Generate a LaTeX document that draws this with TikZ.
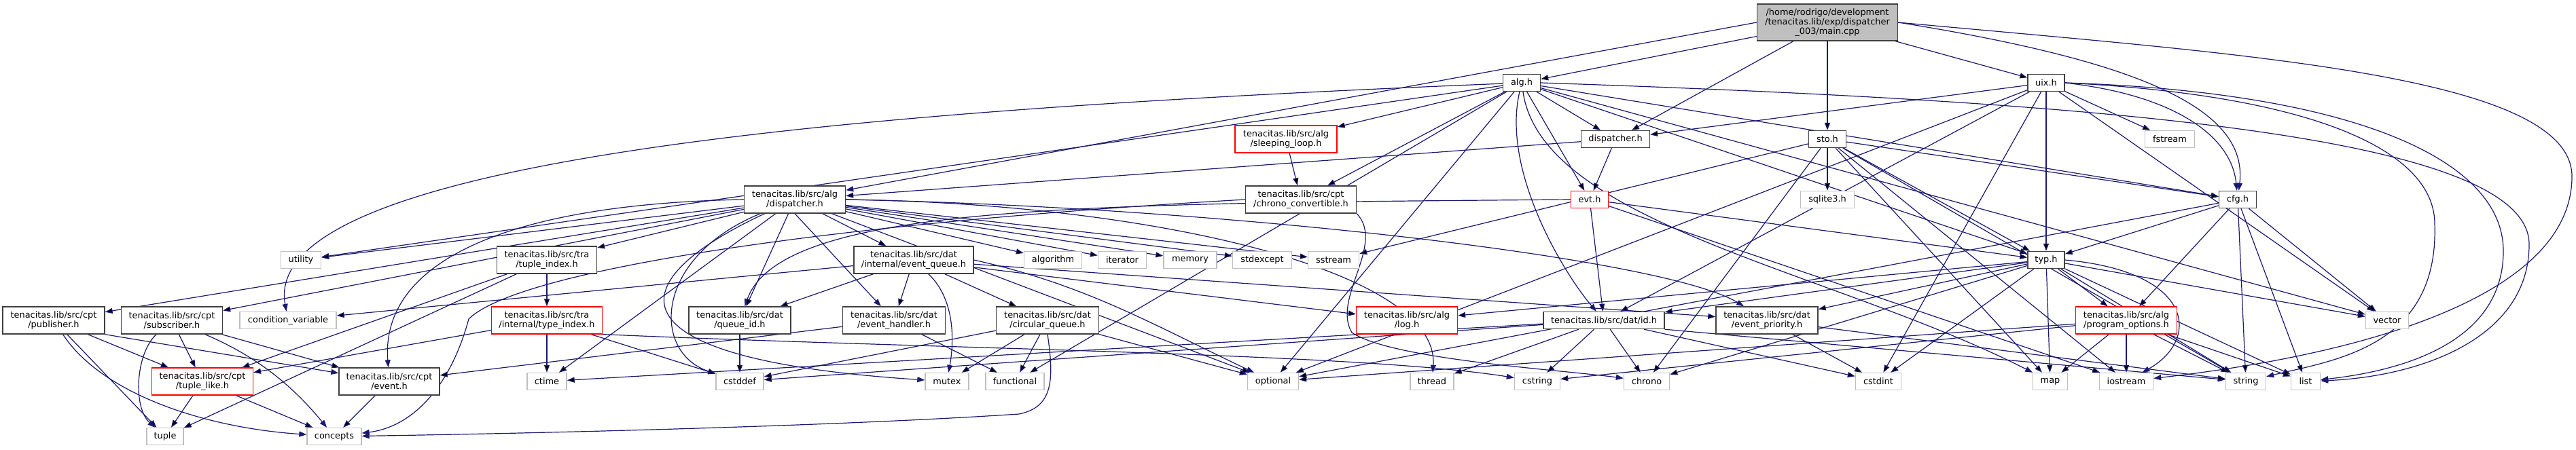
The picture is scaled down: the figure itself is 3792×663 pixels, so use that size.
\documentclass[tikz,border=0pt]{standalone}
\usepackage{fontspec}
\setmainfont{DejaVu Sans}
\usetikzlibrary{arrows.meta,backgrounds}
\definecolor{edgeblue}{HTML}{191970}
\definecolor{boxline}{HTML}{404040}
\definecolor{sysline}{HTML}{BFBFBF}
\definecolor{rootgray}{HTML}{BFBFBF}

\begin{document}
\begin{tikzpicture}[x=1pt,y=-1pt,
  incl/.style={rectangle,draw=boxline,line width=1.4pt,fill=white,inner sep=0pt,
    minimum height=25pt,align=center,font=\fontsize{12.9}{14}\selectfont},
  twoline/.style={minimum height=40pt},
  stdh/.style={incl,draw=sysline},
  cuth/.style={incl,draw=red,line width=1.2pt},
  dep/.style={draw=edgeblue,line width=1.2pt,-{Triangle[length=11pt,width=8pt]}}
]
  \useasboundingbox (0,0) rectangle (3792,663);

  % root file
  \node[incl,fill=rootgray,minimum width=207pt,minimum height=54pt] (root) at (2690,33)
    {/home/rodrigo/development\\/tenacitas.lib/exp/dispatcher\\\_003/main.cpp};

  % row 1
  \node[incl,minimum width=55pt] (algh) at (2240,122) {alg.h};
  \node[incl,minimum width=54pt] (uixh) at (3012,122) {uix.h};

  % row 2
  \node[cuth,twoline,minimum width=150pt] (sleeploop) at (1893,205) {tenacitas.lib/src/alg\\/sleeping\_loop.h};
  \node[incl,minimum width=101pt] (disph) at (2378,205) {dispatcher.h};
  \node[incl,minimum width=55pt] (stoh) at (2690,205) {sto.h};
  \node[stdh,minimum width=73pt] (fstream) at (3194,205) {fstream};

  % row 3
  \node[incl,twoline,minimum width=149pt] (algdisp) at (1170,294) {tenacitas.lib/src/alg\\/dispatcher.h};
  \node[incl,twoline,minimum width=163pt] (chronoconv) at (1915,294) {tenacitas.lib/src/cpt\\/chrono\_convertible.h};
  \node[cuth,minimum width=55pt] (evth) at (2340,294) {evt.h};
  \node[stdh,minimum width=79pt] (sqlite) at (2690,294) {sqlite3.h};
  \node[incl,minimum width=55pt] (cfgh) at (3294,294) {cfg.h};

  % row 4
  \node[stdh,minimum width=59pt] (utility) at (443,383) {utility};
  \node[incl,twoline,minimum width=147pt] (tupleindex) at (805,383) {tenacitas.lib/src/tra\\/tuple\_index.h};
  \node[incl,twoline,minimum width=176pt] (eventqueue) at (1345,383) {tenacitas.lib/src/dat\\/internal/event\_queue.h};
  \node[stdh,minimum width=85pt] (algorithm) at (1550,383) {algorithm};
  \node[stdh,minimum width=71pt] (iterator) at (1652,383) {iterator};
  \node[stdh,minimum width=78pt] (memory) at (1752,383) {memory};
  \node[stdh,minimum width=87pt] (stdexcept) at (1858,383) {stdexcept};
  \node[stdh,minimum width=75pt] (sstream) at (1963,383) {sstream};
  \node[incl,minimum width=54pt] (typh) at (3012,383) {typ.h};

  % row 5
  \node[incl,twoline,minimum width=150pt] (publisher) at (79,472) {tenacitas.lib/src/cpt\\/publisher.h};
  \node[incl,twoline,minimum width=149pt] (subscriber) at (253,472) {tenacitas.lib/src/cpt\\/subscriber.h};
  \node[stdh,minimum width=142pt] (condvar) at (424,472) {condition\_variable};
  \node[cuth,twoline,minimum width=163pt] (typeindex) at (805,472) {tenacitas.lib/src/tra\\/internal/type\_index.h};
  \node[incl,twoline,minimum width=150pt] (queueid) at (1089,472) {tenacitas.lib/src/dat\\/queue\_id.h};
  \node[incl,twoline,minimum width=151pt] (evhandler) at (1316,472) {tenacitas.lib/src/dat\\/event\_handler.h};
  \node[incl,twoline,minimum width=151pt] (circqueue) at (1542,472) {tenacitas.lib/src/dat\\/circular\_queue.h};
  \node[cuth,twoline,minimum width=149pt] (logh) at (2071,472) {tenacitas.lib/src/alg\\/log.h};
  \node[incl,minimum width=178pt] (idh) at (2361,472) {tenacitas.lib/src/dat/id.h};
  \node[incl,twoline,minimum width=150pt] (evprio) at (2601,472) {tenacitas.lib/src/dat\\/event\_priority.h};
  \node[cuth,twoline,minimum width=149pt] (progopts) at (3130,472) {tenacitas.lib/src/alg\\/program\_options.h};
  \node[stdh,minimum width=63pt] (vector) at (3514,472) {vector};

  % row 6
  \node[cuth,twoline,minimum width=149pt] (tuplelike) at (298,562) {tenacitas.lib/src/cpt\\/tuple\_like.h};
  \node[incl,twoline,minimum width=148pt] (eventh) at (573,562) {tenacitas.lib/src/cpt\\/event.h};
  \node[stdh,minimum width=58pt] (ctime) at (805,562) {ctime};
  \node[stdh,minimum width=70pt] (cstddef) at (1089,562) {cstddef};
  \node[stdh,minimum width=64pt] (mutex) at (1394,562) {mutex};
  \node[stdh,minimum width=86pt] (functional) at (1494,562) {functional};
  \node[stdh,minimum width=75pt] (optional) at (1874,562) {optional};
  \node[stdh,minimum width=64pt] (thread) at (2108,562) {thread};
  \node[stdh,minimum width=67pt] (cstring) at (2263,562) {cstring};
  \node[stdh,minimum width=67pt] (chrono) at (2424,562) {chrono};
  \node[stdh,minimum width=67pt] (cstdint) at (2765,562) {cstdint};
  \node[stdh,minimum width=51pt] (map) at (3018,562) {map};
  \node[stdh,minimum width=79pt] (iostream) at (3130,562) {iostream};
  \node[stdh,minimum width=59pt] (string) at (3306,562) {string};
  \node[stdh,minimum width=43pt] (list) at (3394,562) {list};

  % row 7
  \node[stdh,minimum width=54pt] (tuple) at (243,643) {tuple};
  \node[stdh,minimum width=80pt] (concepts) at (492,643) {concepts};

  \begin{scope}[on background layer]
    % main.cpp
    \path[dep] (root) edge (algh) edge (disph) edge (stoh) edge (uixh);
    \draw[dep] (root.west) -- (algdisp);
    \draw[dep] (root.east) .. controls (3150,90) and (3310,160) .. (cfgh);
    \draw[dep] (root.east) .. controls (3300,80) and (3786,110) .. (3786,260)
      .. controls (3786,430) and (3500,520) .. (iostream);
    % alg.h
    \path[dep] (algh) edge (sleeploop) edge (disph) edge (evth)
      edge (chronoconv) edge (utility) edge (functional) edge (optional)
      edge (typh) edge (cfgh) edge (vector);
    \draw[dep] (algh) .. controls (2210,250) and (2300,400) .. (idh);
    \draw[dep] (algh) .. controls (2270,330) and (2700,400) .. (map);
    \draw[dep] (algh) .. controls (1300,160) and (380,230) .. (condvar);
    \draw[dep] (algh.east) .. controls (3100,150) and (3723,200) .. (3723,360)
      .. controls (3723,500) and (3560,555) .. (list);
    % dispatcher.h
    \path[dep] (disph) edge (evth) edge (algdisp);
    % uix.h
    \path[dep] (uixh) edge (disph) edge (typh) edge (fstream) edge (cstdint)
      edge (idh) edge (optional) edge (vector);
    \draw[dep] (uixh.east) .. controls (3200,140) and (3285,200) .. (cfgh);
    \draw[dep] (uixh.east) .. controls (3400,140) and (3584,220) .. (3584,330)
      .. controls (3590,510) and (3440,530) .. (string);
    \draw[dep] (uixh.east) .. controls (3450,135) and (3685,230) .. (3685,370)
      .. controls (3685,520) and (3500,550) .. (list);
    % sto.h
    \path[dep] (stoh) edge (sqlite) edge (typh) edge (cfgh) edge (sstream)
      edge (chrono) edge (string) edge (iostream) edge (map);
    % concepts and chrono helpers
    \path[dep] (sleeploop) edge (chronoconv);
    \draw[dep] (chronoconv.south east) .. controls (2040,360) and (1960,440) .. (1990,490)
      .. controls (2050,530) and (2300,545) .. (chrono);
    \draw[dep] (chronoconv.west) .. controls (1200,330) and (760,400) .. (690,470)
      .. controls (660,580) and (600,630) .. (concepts);
    % evt.h
    \path[dep] (evth) edge (idh) edge (typh) edge (iostream);
    \draw[dep] (evth.west) .. controls (1600,300) and (1150,300) .. (queueid);
    % cfg.h
    \path[dep] (cfgh) edge (typh) edge (progopts) edge (vector) edge (string)
      edge (list) edge (optional);
    % alg/dispatcher.h
    \path[dep] (algdisp) edge (publisher) edge (subscriber) edge (utility)
      edge (tupleindex) edge (eventqueue) edge (algorithm) edge (iterator)
      edge (memory) edge (stdexcept) edge (sstream) edge (queueid)
      edge (ctime) edge (optional);
    \draw[dep] (algdisp.south) -- (evhandler);
    \draw[dep] (algdisp.west) .. controls (760,300) and (560,380) .. (eventh);
    \draw[dep] (algdisp) .. controls (960,380) and (960,520) .. (cstddef);
    \draw[dep] (algdisp) .. controls (900,420) and (900,530) .. (mutex);
    \draw[dep] (algdisp.east) .. controls (1700,300) and (2120,400) .. (thread);
    \draw[dep] (algdisp.east) .. controls (1800,305) and (2450,380) .. (evprio);
    % tra
    \path[dep] (tupleindex) edge (typeindex) edge (tuplelike) edge (tuple);
    \path[dep] (typeindex) edge (ctime) edge (cstddef) edge (tuplelike);
    \draw[dep] (typeindex.south east) .. controls (1400,515) and (2000,520) .. (cstring);
    % dat
    \path[dep] (eventqueue) edge (condvar) edge (queueid) edge (evhandler)
      edge (circqueue) edge (logh) edge (evprio);
    \draw[dep] (eventqueue) .. controls (1405,440) and (1405,500) .. (mutex);
    \draw[dep] (eventqueue.east) .. controls (1600,420) and (1700,480) .. (optional);
    \path[dep] (queueid) edge (cstddef);
    \path[dep] (evhandler) edge (functional) edge (eventh);
    \path[dep] (circqueue) edge (mutex) edge (functional) edge (cstddef) edge (optional);
    \draw[dep] (circqueue.south) .. controls (1552,560) and (1550,600) .. (1500,610)
      .. controls (1200,630) and (700,640) .. (concepts);
    \path[dep] (idh) edge (ctime) edge (cstddef) edge (thread) edge (cstring)
      edge (chrono) edge (cstdint);
    \draw[dep] (idh.south east) -- (string);
    \path[dep] (evprio) edge (cstdint) edge (string);
    % typ.h
    \path[dep] (typh) edge (progopts) edge (map) edge (cstdint) edge (chrono)
      edge (string) edge (list) edge (vector) edge (idh) edge (evprio) edge (logh);
    \draw[dep] (typh.east) .. controls (3230,400) and (3240,500) .. (iostream);
    \path[dep] (progopts) edge (map) edge (iostream) edge (string) edge (list)
      edge (cstring) edge (optional);
    % cpt
    \path[dep] (publisher) edge (tuplelike) edge (tuple);
    \draw[dep] (publisher.south east) -- (eventh);
    \draw[dep] (publisher) .. controls (150,580) and (300,630) .. (concepts);
    \path[dep] (subscriber) edge (tuplelike) edge (eventh);
    \draw[dep] (subscriber) .. controls (200,520) and (195,600) .. (tuple);
    \draw[dep] (subscriber) .. controls (390,530) and (440,580) .. (concepts);
    \path[dep] (tuplelike) edge (tuple) edge (concepts);
    \path[dep] (eventh) edge (concepts);
  \end{scope}
\end{tikzpicture}
\end{document}
